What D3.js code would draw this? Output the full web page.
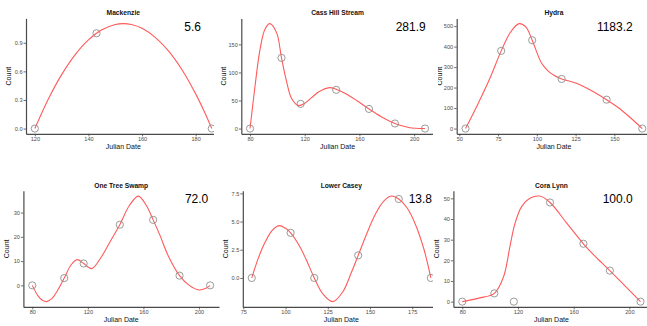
<!DOCTYPE html>
<html>
<head>
<meta charset="utf-8">
<script src="https://cdn.jsdelivr.net/npm/d3@7"></script>
<style>
  html, body { margin: 0; padding: 0; background: #fff; }
  svg { display: block; font-family: "Liberation Sans", Arial, sans-serif; }
</style>
</head>
<body>
<svg id="chart" width="647" height="326"></svg>
<script>
// ---------------- DATA ----------------
const siteNames = ["Mackenzie", "Cass Hill Stream", "Hydra", "One Tree Swamp", "Lower Casey", "Cora Lynn"];
const siteTotals = ["5.6", "281.9", "1183.2", "72.0", "13.8", "100.0"];

// observed counts (open circles)
const julianMackenzie  = [120, 143, 186];
const countMackenzie   = [0, 1, 0];
const julianCassHill   = [80, 103, 117, 143, 167, 186, 208];
const countCassHill    = [0, 126, 44, 69, 35, 9, 0];
const julianHydra      = [54, 77, 97, 116, 145, 168];
const countHydra       = [0, 379, 431, 242, 141, 0];
const julianOneTree    = [80, 103, 117, 143, 167, 186, 208];
const countOneTree     = [0, 3, 9, 25, 27, 4, 0];
const julianLowerCasey = [80, 103, 117, 143, 167, 186];
const countLowerCasey  = [0, 4, 0, 2, 7, 0];
const julianCoraLynn   = [80, 103, 117, 143, 167, 186, 208];
const countCoraLynn    = [0, 4, 0, 48, 28, 15, 0];

// fitted curve (red line)
const fitJulianMackenzie = [120, 125, 130, 135, 140, 145, 150, 153, 156, 160, 165, 170, 175, 180, 183, 186];
const fitCountMackenzie  = [0, 0.308, 0.566, 0.774, 0.93, 1.036, 1.092, 1.101, 1.092, 1.052, 0.955, 0.809, 0.612, 0.364, 0.191, 0];
const fitJulianCassHill  = [80, 83.6, 87.3, 90.9, 94.5, 99.4, 103, 106.7, 110.3, 115.3, 120, 125, 130, 138, 143, 150, 158, 167, 176, 186, 196, 208];
const fitCountCassHill   = [0, 75, 141, 177, 187, 171, 126, 84, 54, 41, 45, 55, 65, 73, 70, 62, 50, 35, 21, 9, 2, 0];
const fitJulianHydra     = [54, 62, 70, 77, 83, 88.5, 93, 97, 103, 107, 111, 116, 125, 135, 145, 152, 160, 168];
const fitCountHydra      = [0, 120, 250, 379, 470, 512, 495, 431, 320, 283, 260, 242, 222, 186, 141, 105, 55, 0];
const fitJulianOneTree   = [80, 84, 87, 90.3, 94, 98, 103, 108, 112.4, 117, 122.8, 130, 136, 143, 150, 156.3, 162, 167, 172, 178, 186, 193, 200, 205, 208];
const fitCountOneTree    = [0, -4.2, -6, -6.7, -5.5, -2.3, 3, 8.5, 10.6, 9, 6.9, 12, 18, 25, 33, 36.8, 33, 27, 20.5, 12, 4, 0, -1.9, -1.2, 0];
const fitJulianLowerCasey = [80, 84, 88, 92, 96.2, 100, 103, 108, 112, 117, 122, 127.9, 134, 139, 143, 148, 153, 158, 162.6, 167, 172, 177, 182, 186];
const fitCountLowerCasey  = [0, 1.8, 3.2, 4.2, 4.64, 4.4, 4, 2.9, 1.7, 0, -1.4, -2.1, -1.2, 0.5, 2, 3.9, 5.6, 6.8, 7.26, 7, 6.2, 4.7, 2.5, 0];
const fitJulianCoraLynn  = [80, 92, 103, 109.6, 114.3, 117.9, 122.6, 128.5, 135.6, 143, 155, 167, 176, 186, 197, 208];
const fitCountCoraLynn   = [0, 1.7, 4, 12, 27, 38, 46, 50, 51.1, 48, 38, 28, 21.5, 15, 7.5, 0];

const xTickValues = [
  [120, 140, 160, 180],
  [80, 120, 160, 200],
  [50, 75, 100, 125, 150],
  [80, 120, 160, 200],
  [75, 100, 125, 150, 175],
  [80, 120, 160, 200]
];
const yTickValues = [
  [0, 0.3, 0.6, 0.9],
  [0, 50, 100, 150],
  [0, 100, 200, 300, 400, 500],
  [0, 10, 20, 30],
  [0, 2.5, 5, 7.5],
  [0, 10, 20, 30, 40, 50]
];
const yTickFormats = [".1f", "d", "d", "d", ".1f", "d"];

const allJulian = [julianMackenzie, julianCassHill, julianHydra, julianOneTree, julianLowerCasey, julianCoraLynn];
const allCount  = [countMackenzie, countCassHill, countHydra, countOneTree, countLowerCasey, countCoraLynn];
const allFitJulian = [fitJulianMackenzie, fitJulianCassHill, fitJulianHydra, fitJulianOneTree, fitJulianLowerCasey, fitJulianCoraLynn];
const allFitCount  = [fitCountMackenzie, fitCountCassHill, fitCountHydra, fitCountOneTree, fitCountLowerCasey, fitCountCoraLynn];

// ---------------- LAYOUT ----------------
const layout = [
  { left: 26.0,  width: 194.6, top: 18.4,  bottom: 133.8, bgLeft: 0,   clipLeft: 0,   totalX: 201.0, totalY: 31 },
  { left: 241.3, width: 192.5, top: 18.4,  bottom: 133.8, bgLeft: 214, clipLeft: 214, totalX: 425.7, totalY: 31 },
  { left: 456.7, width: 194.4, top: 18.4,  bottom: 133.8, bgLeft: 433, clipLeft: 438, totalX: 632.7, totalY: 31 },
  { left: 23.4,  width: 195.6, top: 190.8, bottom: 306.9, bgLeft: 0,   clipLeft: 0,   totalX: 208.3, totalY: 203.3 },
  { left: 242.8, width: 197.0, top: 190.8, bottom: 306.9, bgLeft: 221, clipLeft: 221, totalX: 432.0, totalY: 203.3 },
  { left: 453.4, width: 196.0, top: 190.8, bottom: 306.9, bgLeft: 433, clipLeft: 433, totalX: 632.7, totalY: 203.3 }
];

// ---------------- DRAW ----------------
const svg = d3.select("#chart");
svg.append("rect").attr("width", 647).attr("height", 326).attr("fill", "#fff");
const defs = svg.append("defs");

siteNames.forEach((name, k) => {
  const L = layout[k];
  const xs = allJulian[k], ys = allCount[k];
  const curve = allFitJulian[k].map((v, i) => [v, allFitCount[k][i]]);

  const xMin = d3.min(xs), xMax = d3.max(xs);
  const xPad = (xMax - xMin) * 0.05;
  const yVals = ys.concat(allFitCount[k]);
  const yMin = d3.min(yVals), yMax = d3.max(yVals);
  const yPad = (yMax - yMin) * 0.05;

  const x = d3.scaleLinear().domain([xMin - xPad, xMax + xPad]).range([L.left, L.left + L.width]);
  const y = d3.scaleLinear().domain([yMin - yPad, yMax + yPad]).range([L.bottom, L.top]);

  const isTop = k < 3;
  const cellTop = isTop ? 0 : 163;
  const cellBottom = isTop ? 163 : 326;

  svg.append("rect").attr("x", L.bgLeft).attr("y", cellTop)
    .attr("width", 647 - L.bgLeft).attr("height", cellBottom - cellTop).attr("fill", "#fff");

  defs.append("clipPath").attr("id", "clip" + k)
    .append("rect").attr("x", L.clipLeft).attr("y", cellTop)
    .attr("width", 700 - L.clipLeft).attr("height", cellBottom - cellTop);

  const g = svg.append("g").attr("clip-path", `url(#clip${k})`);

  g.append("path")
    .datum(curve)
    .attr("fill", "none")
    .attr("stroke", "#ff5a5a")
    .attr("stroke-width", 1.1)
    .attr("d", d3.line().curve(d3.curveCatmullRom.alpha(0.5)).x(p => x(p[0])).y(p => y(p[1])));

  g.selectAll("circle.pt").data(xs.map((v, i) => [v, ys[i]])).join("circle")
    .attr("class", "pt")
    .attr("cx", p => x(p[0])).attr("cy", p => y(p[1]))
    .attr("r", 3.6)
    .attr("fill", "none")
    .attr("stroke", "#8f8f8f")
    .attr("stroke-width", 0.9);

  const xAxis = d3.axisBottom(x).tickValues(xTickValues[k]).tickSizeInner(2.5).tickSizeOuter(0).tickPadding(1)
    .tickFormat(d3.format("d"));
  const yAxis = d3.axisLeft(y).tickValues(yTickValues[k]).tickSizeInner(2.5).tickSizeOuter(0).tickPadding(1)
    .tickFormat(d3.format(yTickFormats[k]));

  const gx = g.append("g").attr("transform", `translate(0,${L.bottom})`).call(xAxis);
  const gy = g.append("g").attr("transform", `translate(${L.left},0)`).call(yAxis);
  [gx, gy].forEach(ax => {
    ax.select(".domain").attr("stroke", "#4a4a4a").attr("stroke-width", 1.2);
    ax.selectAll(".tick line").attr("stroke", "#4a4a4a").attr("stroke-width", 0.8);
    ax.selectAll(".tick text").attr("fill", "#4d4d4d").attr("font-size", 5.6)
      .attr("font-family", "Liberation Sans, Arial, sans-serif");
  });

  g.append("text")
    .attr("x", L.left + L.width / 2).attr("y", L.bottom + 14.7)
    .attr("text-anchor", "middle").attr("font-size", 7).attr("fill", "#111")
    .text("Julian Date");
  g.append("text")
    .attr("transform", `translate(${L.left - 17.3},${(L.top + L.bottom) / 2}) rotate(-90)`)
    .attr("text-anchor", "middle").attr("dy", "0.35em").attr("font-size", 7).attr("fill", "#111")
    .text("Count");

  g.append("text")
    .attr("x", L.left + L.width / 2).attr("y", L.top - 3)
    .attr("text-anchor", "middle").attr("font-size", 6.7).attr("font-weight", "bold").attr("fill", "#111")
    .text(name);

  g.append("text")
    .attr("x", L.totalX).attr("y", L.totalY)
    .attr("text-anchor", "end").attr("font-size", 12).attr("fill", "#000")
    .text(siteTotals[k]);
});
</script>
</body>
</html>
